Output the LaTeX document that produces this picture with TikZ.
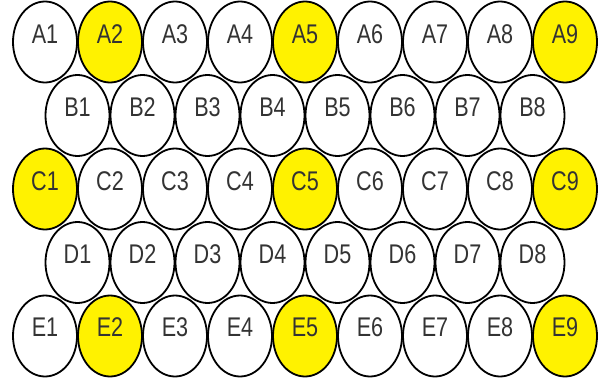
\documentclass[tikz,border=0pt]{standalone}
\usepackage{fontspec}
\setmainfont{Liberation Sans}
\usetikzlibrary{shapes.geometric}
\begin{document}
\begin{tikzpicture}[x=1pt,y=-1pt,
  cell/.style={ellipse,draw=black,line width=1.8pt,fill=white,minimum width=64pt,minimum height=81pt,inner sep=0pt},
  hot/.style={cell,fill=yellow},
  lbl/.style={text=black!80,font=\fontsize{27}{27}\selectfont,xscale=0.8,inner sep=0pt}]
\useasboundingbox (0,0) rectangle (602,383);
\foreach \i in {1,...,9}{
  \pgfmathsetmacro{\xx}{45+65*(\i-1)}
  \ifnum\i=2 \def\st{hot}\else\ifnum\i=5 \def\st{hot}\else\ifnum\i=9 \def\st{hot}\else\def\st{cell}\fi\fi\fi
  \node[\st] (A\i) at (\xx,42) {};
  \node[lbl] (tA\i) at (\xx,34) {A\i};
  \node[\st] (E\i) at (\xx,336) {};
  \node[lbl] (tE\i) at (\xx,327) {E\i};
}
\foreach \i in {1,...,9}{
  \pgfmathsetmacro{\xx}{45+65*(\i-1)}
  \ifnum\i=1 \def\st{hot}\else\ifnum\i=5 \def\st{hot}\else\ifnum\i=9 \def\st{hot}\else\def\st{cell}\fi\fi\fi
  \node[\st] (C\i) at (\xx,189) {};
  \node[lbl] (tC\i) at (\xx,181) {C\i};
}
\foreach \i in {1,...,8}{
  \pgfmathsetmacro{\xx}{77.5+65*(\i-1)}
  \node[cell] (B\i) at (\xx,115.5) {};
  \node[lbl] (tB\i) at (\xx,107) {B\i};
  \node[cell] (D\i) at (\xx,262.5) {};
  \node[lbl] (tD\i) at (\xx,254) {D\i};
}
\end{tikzpicture}
\end{document}
